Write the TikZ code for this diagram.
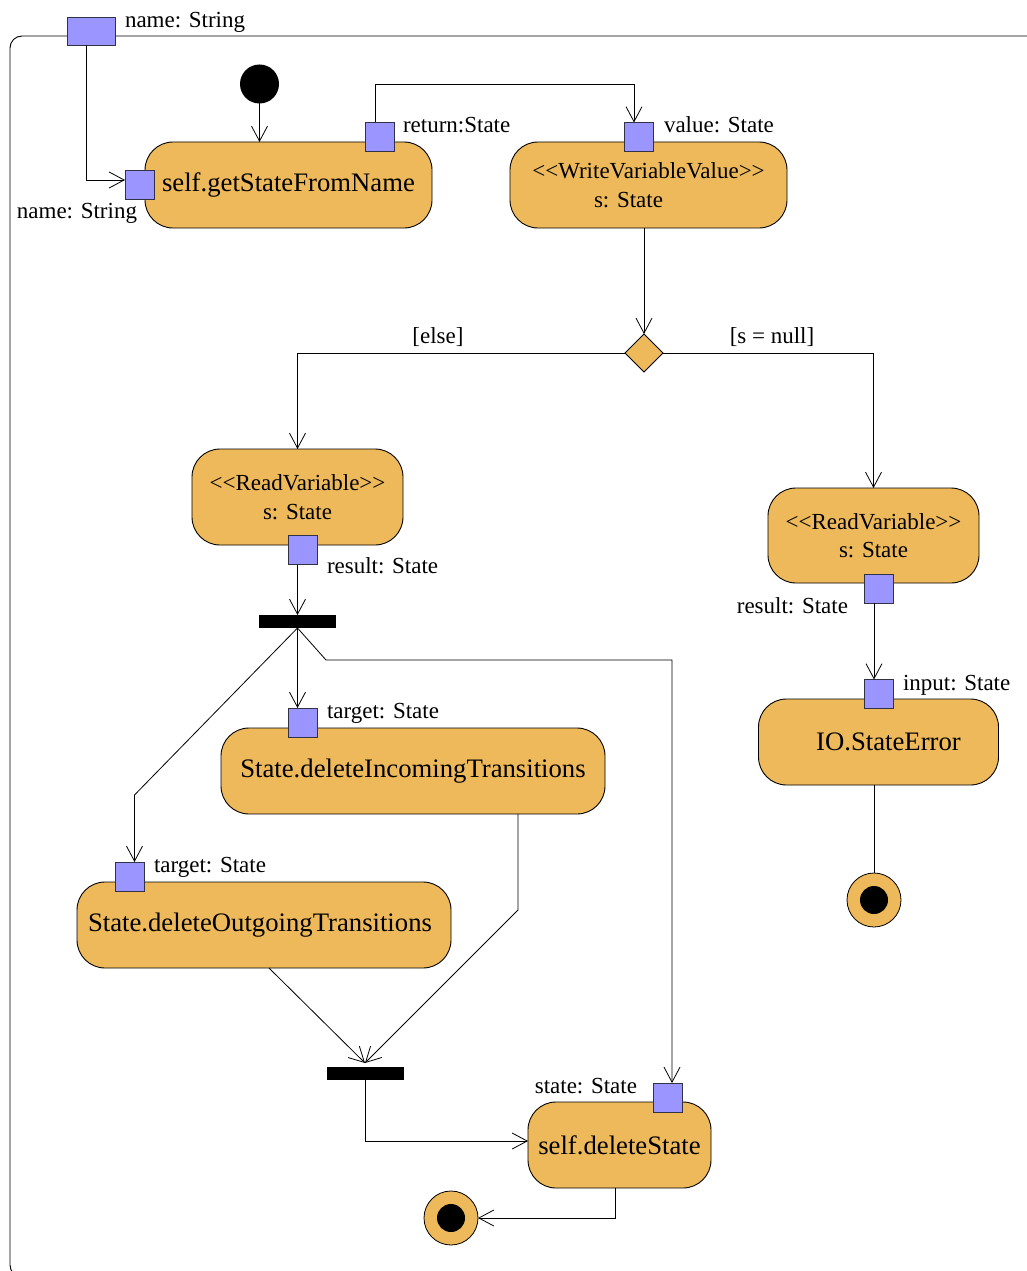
\documentclass[tikz,border=0pt]{standalone}
\usepackage{fontspec}
\setmainfont{Liberation Serif}
\usetikzlibrary{arrows.meta,shapes.geometric,calc}
\definecolor{actfill}{RGB}{237,185,90}
\definecolor{pinfill}{RGB}{155,150,255}
\definecolor{pinedge}{RGB}{50,50,70}
\newcommand\actfont{\fontsize{26.7}{30}\selectfont}
\newcommand\lblfont{\fontsize{23}{28.5}\selectfont}
\newcommand\stereo[1]{<\kern0pt<#1>\kern0pt>}
\begin{document}
\begin{tikzpicture}[x=1pt,y=-1pt,
  every node/.style={inner sep=0pt, outer sep=0pt},
  action/.style={draw=black, fill=actfill, line width=0.9pt, rounded corners=28pt, font=\actfont, align=center},
  action2/.style={action, font=\lblfont},
  pin/.style={draw=pinedge, fill=pinfill, line width=0.9pt, minimum width=29pt, minimum height=29pt},
  bar/.style={fill=black, minimum width=77pt, minimum height=13pt},
  plabel/.style={font=\lblfont},
  flow/.style={line width=0.8pt, -{Straight Barb[length=15pt,width=16pt]}},
  plain/.style={line width=0.8pt},
  initial/.style={circle, fill=black, minimum size=39pt},
  final/.style={circle, draw=black, fill=actfill, line width=0.8pt, minimum size=54pt,
    path picture={\fill[black] (path picture bounding box.center) circle (14pt);}},
  decision/.style={diamond, draw=black, fill=actfill, line width=0.8pt, minimum width=38pt, minimum height=38pt, aspect=1},
]
\useasboundingbox (0,0) rectangle (1026,1271);

% activity frame
\draw[line width=0.9pt, rounded corners=12pt] (1040,1277) -- (10,1277) -- (10,36) -- (1040,36);

% parameter of the activity
\node[pin, minimum width=48pt, minimum height=28pt] (pinTop) at (91.5,31) {};
\node[plabel, anchor=base west] (lblTop) at (125,28) {name: String};

% first row
\node[initial] (init) at (259.5,84) {};
\node[action, minimum width=287pt, minimum height=86pt] (getState) at (288.5,185) {self.getStateFromName};
\node[pin] (pinName) at (139.5,185) {};
\node[plabel, anchor=base east] (lblName) at (137,218) {name: String};
\node[pin] (pinRet) at (379.5,137) {};
\node[plabel, anchor=base west] (lblRet) at (403,132) {return:State};

\node[action2, minimum width=277pt, minimum height=86pt] (write) at (648.5,185)
  {\raisebox{-3pt}{\stereo{WriteVariableValue}}\\ \raisebox{-3pt}{s: State}\hspace*{40pt}};
\node[pin] (pinVal) at (639,137) {};
\node[plabel, anchor=base west] (lblVal) at (664,132) {value: State};

% decision
\node[decision] (dec) at (644,353) {};
\node[plabel] (lblElse) at (438,337) {[else]};
\node[plabel] (lblNull) at (772,337) {[s = null]};

% left branch
\node[action2, minimum width=211pt, minimum height=96pt] (readL) at (297.5,497) {\stereo{ReadVariable}\\ s: State};
\node[pin] (pinResL) at (302.5,550) {};
\node[plabel, anchor=base west] (lblResL) at (327,573) {result: State};
\node[bar] (fork) at (297.5,621.5) {};

\node[action, minimum width=384pt, minimum height=86pt] (delIn) at (413,771) {State.deleteIncomingTransitions};
\node[pin] (pinTgtI) at (302.5,722.5) {};
\node[plabel, anchor=base west] (lblTgtI) at (327,718) {target: State};

\node[action, minimum width=374pt, minimum height=86pt] (delOut) at (264,925) {State.deleteOutgoingTransitions\hspace*{8pt}};
\node[pin] (pinTgtO) at (129.5,876.5) {};
\node[plabel, anchor=base west] (lblTgtO) at (154,872) {target: State};

\node[bar] (join) at (365,1073.5) {};

\node[action, minimum width=183pt, minimum height=86pt] (delState) at (619.5,1145) {self.deleteState};
\node[pin] (pinState) at (667.5,1097.5) {};
\node[plabel, anchor=base east] (lblState) at (637,1093) {state: State};
\node[final] (finalL) at (451,1218) {};

% right branch
\node[action2, minimum width=211pt, minimum height=95pt] (readR) at (873.5,535.5) {\stereo{ReadVariable}\\ s: State};
\node[pin] (pinResR) at (878.5,588.5) {};
\node[plabel, anchor=base east] (lblResR) at (848,613) {result: State};
\node[action, minimum width=240pt, minimum height=86pt] (io) at (878.5,742) {\hspace*{20pt}IO.StateError};
\node[pin] (pinIn) at (878.5,694) {};
\node[plabel, anchor=base west] (lblIn) at (903,690) {input: State};
\node[final] (finalR) at (874,900) {};

% bend points
\coordinate (bendO) at (134.5,795);
\coordinate (bendS1) at (326,660);
\coordinate (bendS2) at (672,660);
\coordinate (inBend) at (518,910);

% flows
\draw[flow] ([xshift=-5pt]pinTop.south) |- ([yshift=5pt]pinName.west);
\draw[flow] (init) -- (init |- getState.north);
\draw[flow] ([xshift=-4.5pt]pinRet.north) -- ++(0,-38) -| ([xshift=-5pt]pinVal.north);
\draw[flow] (dec |- write.south) -- (dec.north);
\draw[flow] (dec.west) -| (readL.north);
\draw[flow] (dec.east) -| (readR.north);
\draw[flow] (fork.north |- pinResL.south) -- (fork.north);
\draw[flow] (fork.south) -- (fork.south |- pinTgtI.north);
\draw[flow] (fork.south) -- (bendO) -- (bendO |- pinTgtO.north);
\draw[flow] (fork.south) -- (bendS1) -- (bendS2) -- (bendS2 |- pinState.north);
\draw[flow] ([xshift=5pt]delOut.south) -- ([yshift=4pt]join.north);
\draw[flow] (inBend |- delIn.south) -- (inBend) -- ([yshift=4pt]join.north);
\draw[flow] (join.south) |- ([yshift=4pt]delState.west);
\draw[flow] ([xshift=-4.5pt]delState.south) |- (finalL.east);
\draw[flow] ([xshift=-4.5pt]pinResR.south) -- ([xshift=-4.5pt]pinIn.north);
\draw[plain] (finalR |- io.south) -- (finalR.north);
\end{tikzpicture}
\end{document}
